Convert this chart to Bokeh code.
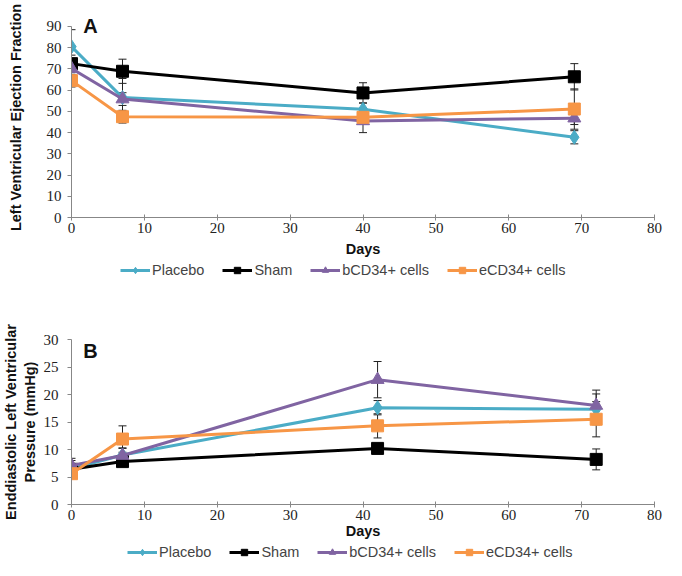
from bokeh.plotting import figure
from bokeh.layouts import column
from bokeh.models import (Range1d, Legend, LegendItem, Whisker, TeeHead,
                          ColumnDataSource, Label, FixedTicker)
from bokeh.embed import file_html
from bokeh.resources import INLINE

# ---------------- data ----------------
series_names = ["Placebo", "Sham", "bCD34+ cells", "eCD34+ cells"]

# Panel A: Left ventricular ejection fraction
days_a = [0, 7, 40, 69]
placebo_a = [80.5, 56.5, 51.0, 37.8]
sham_a = [72.5, 68.9, 58.7, 66.3]
bcd34_a = [70.2, 55.8, 45.5, 46.8]
ecd34_a = [64.5, 47.5, 47.2, 51.1]
placebo_a_err = [8.0, 9.0, 3.0, 3.1]
sham_a_err = [4.0, 5.7, 4.8, 6.2]
bcd34_a_err = [3.0, 3.0, 5.5, 3.0]
ecd34_a_err = [3.0, 3.0, 3.0, 9.5]

# Panel B: Enddiastolic left ventricular pressure
days_b = [0, 7, 42, 72]
placebo_b = [6.5, 9.0, 17.6, 17.3]
sham_b = [6.4, 7.8, 10.2, 8.2]
bcd34_b = [7.1, 8.9, 22.7, 18.0]
ecd34_b = [5.6, 11.9, 14.3, 15.5]
placebo_b_err = [1.5, 1.3, 1.3, 2.8]
sham_b_err = [0.5, 0.5, 0.5, 1.9]
bcd34_b_err = [1.3, 1.3, 3.3, 2.8]
ecd34_b_err = [0.5, 2.4, 2.2, 3.2]

x_ticks = [0, 10, 20, 30, 40, 50, 60, 70, 80]
y_ticks_a = [0, 10, 20, 30, 40, 50, 60, 70, 80, 90]
y_ticks_b = [0, 5, 10, 15, 20, 25, 30]

# ---------------- style ----------------
colors = ["#4BACC6", "#000000", "#8064A2", "#F79646"]
markers = ["diamond", "square", "triangle", "square"]
msizes = [14, 12, 13, 12]
AXIS_COLOR = "#878787"
SANS = "Liberation Sans"
SERIF = "Liberation Serif"
W = 666


def add_series(p, days, ys, errs=None):
    out = []
    for i, (name, y, c, m, s) in enumerate(zip(series_names, ys, colors, markers, msizes)):
        data = dict(x=days, y=y)
        if errs is not None:
            data["upper"] = [a + b for a, b in zip(y, errs[i])]
            data["lower"] = [a - b for a, b in zip(y, errs[i])]
        src = ColumnDataSource(data)
        if errs is not None:
            p.add_layout(Whisker(base="x", upper="upper", lower="lower", source=src,
                                 dimension="height", line_color="#222222", line_width=1,
                                 upper_head=TeeHead(size=8, line_color="#222222", line_width=1),
                                 lower_head=TeeHead(size=8, line_color="#222222", line_width=1),
                                 level="underlay"))
        r1 = p.line("x", "y", source=src, line_color=c, line_width=3)
        r2 = p.scatter("x", "y", source=src, marker=m, size=s, fill_color=c, line_color=c)
        out.append(LegendItem(label=name, renderers=[r1, r2]))
    return out


def make_panel(days, ys, errs, ymax, yshow, yticks, ylabel, letter,
               letter_baseline, top, frame_h, bottom, left, ystandoff, title_standoff,
               days_standoff):
    p = figure(width=W, height=top + frame_h + bottom, output_backend="svg",
               toolbar_location=None,
               x_range=Range1d(0, 80), y_range=Range1d(0, ymax),
               min_border_left=left, min_border_right=W - left - 587,
               min_border_top=top, min_border_bottom=bottom)
    p.outline_line_color = None
    p.grid.visible = False

    for ax in (p.xaxis[0], p.yaxis[0]):
        ax.axis_line_color = AXIS_COLOR
        ax.major_tick_line_color = AXIS_COLOR
        ax.minor_tick_line_color = None
        ax.major_label_text_font = SERIF
        ax.major_label_text_font_size = "15px"
        ax.major_label_text_color = "#222222"
        ax.axis_label_text_font = SANS
        ax.axis_label_text_font_style = "bold"
        ax.axis_label_text_font_size = "14.5px"
        ax.axis_label_text_color = "#111111"

    p.xaxis.ticker = FixedTicker(ticks=x_ticks)
    p.yaxis.ticker = FixedTicker(ticks=yticks)
    p.yaxis.bounds = (0, yshow)
    p.xaxis.major_tick_in = 3
    p.xaxis.major_tick_out = 3
    p.xaxis.major_label_standoff = 2
    p.xaxis.axis_label = "Days"
    p.xaxis.axis_label_standoff = days_standoff
    p.yaxis.major_tick_in = 0
    p.yaxis.major_tick_out = 4
    p.yaxis.major_label_standoff = ystandoff
    p.yaxis.axis_label = ylabel
    p.yaxis.axis_label_standoff = title_standoff
    p.yaxis.axis_label_text_line_height = 1.15

    add_series(p, days, ys, errs)

    p.add_layout(Label(x=1.6, y=yshow, text=letter, text_font=SANS,
                       text_font_style="bold", text_font_size="20px",
                       text_baseline=letter_baseline, text_color="#111111"))
    return p


def make_legend(days, ys, height, x_left):
    # legend strip: the series are drawn again but fall outside this strip's ranges
    p = figure(width=W, height=height, output_backend="svg", toolbar_location=None,
               x_range=Range1d(-3, -2), y_range=Range1d(-3, -2),
               x_axis_location=None, y_axis_location=None, min_border=0)
    p.outline_line_color = None
    p.grid.visible = False
    items = add_series(p, days, ys)
    legend = Legend(items=items, orientation="horizontal",
                    location=(x_left, (height - 16) // 2),
                    glyph_width=30, glyph_height=16, label_standoff=2,
                    spacing=18, padding=0, margin=0,
                    border_line_alpha=0, background_fill_alpha=0,
                    label_text_font=SANS, label_text_font_size="14.5px",
                    label_height=16)
    p.add_layout(legend, "center")
    return p


ys_a = [placebo_a, sham_a, bcd34_a, ecd34_a]
ys_b = [placebo_b, sham_b, bcd34_b, ecd34_b]

pa = make_panel(days_a, ys_a,
                [placebo_a_err, sham_a_err, bcd34_a_err, ecd34_a_err],
                94.24, 90, y_ticks_a, "Left Ventricular Ejection Fraction",
                "A", "middle", 17, 200, 45, 68, 6, 20, 5)
la = make_legend(days_a, ys_a, 16, 49)
pb = make_panel(days_b, ys_b,
                [placebo_b_err, sham_b_err, bcd34_b_err, ecd34_b_err],
                30, 30, y_ticks_b, "Enddiastolic Left Ventricular\nPressure (mmHg)",
                "B", "top", 61, 165, 40, 67, 9, 3, 0)
lb = make_legend(days_b, ys_b, 16, 56)

layout = column(pa, la, pb, lb, spacing=0)
open("out.html", "w").write(file_html(layout, INLINE))
